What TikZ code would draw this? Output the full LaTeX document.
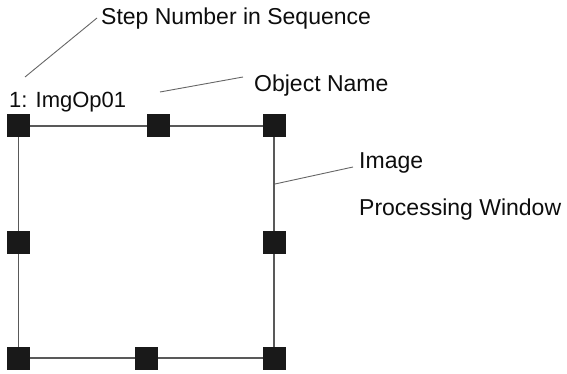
\documentclass[tikz,border=0pt]{standalone}
\usepackage{fontspec}
\setmainfont{Liberation Sans}
\begin{document}
\begin{tikzpicture}[x=1pt,y=-1pt,
  handle/.style={draw=none,fill=black!90,minimum size=23pt,inner sep=0pt,outer sep=0pt},
  lbl/.style={inner sep=0pt,anchor=base west,font=\fontsize{23}{27}\selectfont,text=black!95},
  frame/.style={draw=black!65,line width=1.3pt},
  leader/.style={draw=black!60,line width=0.9pt}]
\useasboundingbox (0,0) rectangle (567,374);
% handle positions
\coordinate (ptl) at (18.5,126);
\coordinate (ptm) at (158,126);
\coordinate (ptr) at (274,126);
\coordinate (pml) at (18.5,242);
\coordinate (pmr) at (274,242);
\coordinate (pbl) at (18.5,358);
\coordinate (pbm) at (146,358);
\coordinate (pbr) at (274,358);
% frame
\draw[frame] (ptl) -- (ptm) -- (ptr) -- (pmr) -- (pbr) -- (pbm) -- (pbl) -- (pml) -- cycle;
% handles
\node[handle] (htl) at (ptl) {};
\node[handle] (htm) at (ptm) {};
\node[handle] (htr) at (ptr) {};
\node[handle] (hml) at (pml) {};
\node[handle] (hmr) at (pmr) {};
\node[handle] (hbl) at (pbl) {};
\node[handle] (hbm) at (pbm) {};
\node[handle] (hbr) at (pbr) {};
% labels
\node[lbl] (step) at (101,25) {Step Number in Sequence};
\node[lbl,font=\fontsize{22}{26}\selectfont] (name) at (9,108) {1: ImgOp01};
\node[lbl] (objname) at (254,92) {Object Name};
\node[lbl] (image) at (359,168) {Image};
\node[lbl] (procwin) at (359,215) {Processing Window};
% leader lines
\coordinate (s1) at (25,77);
\coordinate (s2) at (97,18);
\coordinate (o1) at (160,92);
\coordinate (o2) at (243,77);
\coordinate (i1) at (275,184);
\coordinate (i2) at (353,167);
\draw[leader] (s1) -- (s2);
\draw[leader] (o1) -- (o2);
\draw[leader] (i1) -- (i2);
\end{tikzpicture}
\end{document}
